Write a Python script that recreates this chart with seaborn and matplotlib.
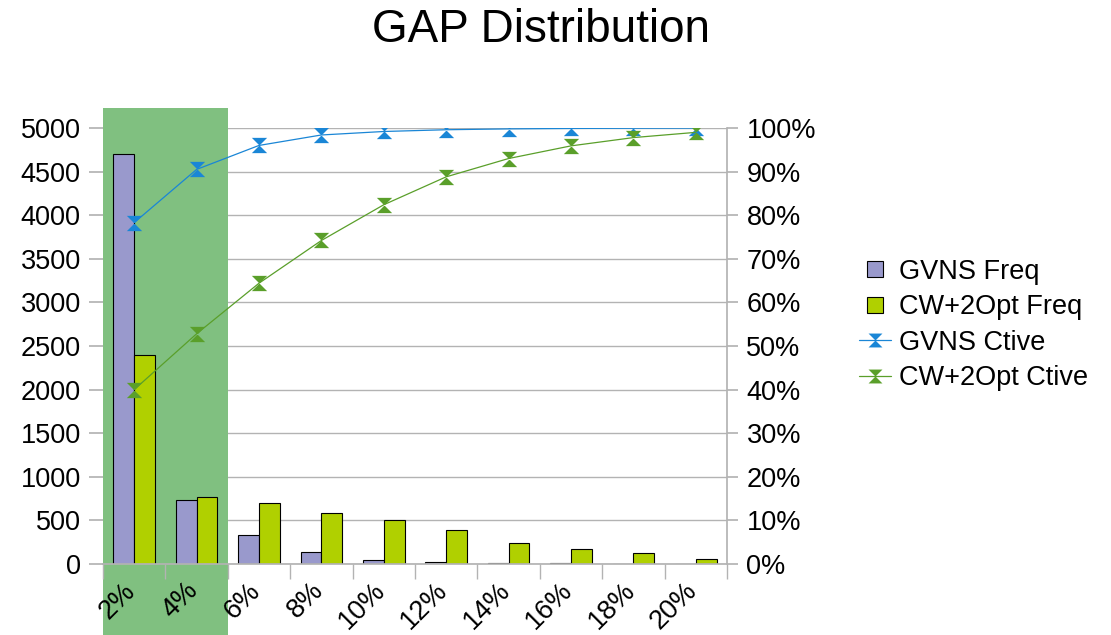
import numpy as np
import pandas as pd
import seaborn as sns
import matplotlib.pyplot as plt
from matplotlib.patches import Rectangle
from matplotlib.lines import Line2D
from matplotlib.ticker import PercentFormatter, FixedLocator
from matplotlib.transforms import ScaledTranslation

gaps = ['2%', '4%', '6%', '8%', '10%', '12%', '14%', '16%', '18%', '20%']
gvns_freq = [4700, 731, 331, 142, 46, 27, 12, 6, 3, 2]
cw_freq = [2400, 769, 700, 585, 500, 385, 242, 177, 123, 62]
gvns_ctive = [0.783, 0.905, 0.960, 0.984, 0.992, 0.996, 0.998, 0.999, 0.9995, 0.9998]
cw_ctive = [0.400, 0.528, 0.644, 0.742, 0.824, 0.888, 0.930, 0.959, 0.978, 0.990]

sns.set_theme(style='white')
plt.rcParams['font.family'] = ['Liberation Sans', 'DejaVu Sans']
plt.rcParams['text.color'] = 'black'
plt.rcParams['xtick.color'] = 'black'
plt.rcParams['ytick.color'] = 'black'

purple = '#9999cc'
lime = '#b0d000'
blue = '#1a86d6'
green = '#5a9f2a'
grid_c = '#b3b3b3'

df = pd.DataFrame({
    'gap': gaps * 2,
    'count': gvns_freq + cw_freq,
    'series': ['GVNS Freq'] * len(gaps) + ['CW+2Opt Freq'] * len(gaps),
})

fig = plt.figure(figsize=(11.11, 6.35), dpi=100)
ax = fig.add_axes([103 / 1111, 1 - 564 / 635, 624 / 1111, 436 / 635])

# highlight band over the first two gap classes
band = Rectangle((103 / 1111, 0), 125 / 1111, (635 - 108) / 635, transform=fig.transFigure,
                 facecolor='#80c080', edgecolor='none', zorder=0.6, clip_on=False)
ax.add_patch(band)

sns.barplot(data=df, x='gap', y='count', hue='series', order=gaps,
            palette=[purple, lime], saturation=1, width=0.665, edgecolor='black',
            linewidth=0.8, ax=ax, legend=False, zorder=1)

ax.set_axisbelow(True)
ax.xaxis.set_zorder(2.5)
ax.set_xlim(-0.5, len(gaps) - 0.5)
ax.set_ylim(0, 5000)
ax.set_yticks(np.arange(0, 5001, 500))
ax.yaxis.grid(True, color=grid_c, linewidth=1)
ax.set_xlabel('')
ax.set_ylabel('')
for s in ['left', 'top', 'right']:
    ax.spines[s].set_visible(False)
ax.spines['bottom'].set_color(grid_c)
ax.tick_params(axis='y', length=10, color=grid_c, labelsize=19.5, pad=6, left=True)
ax.tick_params(axis='x', which='major', length=0, labelsize=19.5, pad=4)
ax.xaxis.set_minor_locator(FixedLocator(np.arange(-0.5, len(gaps), 1.0)))
ax.tick_params(axis='x', which='minor', length=11, color=grid_c, bottom=True)
shift = ScaledTranslation(7 / 100, -8 / 100, fig.dpi_scale_trans)
for lab in ax.get_xticklabels():
    lab.set_rotation(45)
    lab.set_ha('right')
    lab.set_transform(lab.get_transform() + shift)

ax2 = ax.twinx()
hourglass = [(-1, 1), (1, 1), (-1, -1), (1, -1)]
xpos = np.arange(len(gaps))
sns.lineplot(x=xpos, y=gvns_ctive, ax=ax2, color=blue, linewidth=0.9,
             marker=hourglass, markersize=11, markeredgewidth=0)
sns.lineplot(x=xpos, y=cw_ctive, ax=ax2, color=green, linewidth=0.9,
             marker=hourglass, markersize=11, markeredgewidth=0)
ax2.set_ylim(0, 1)
ax2.set_yticks(np.arange(0, 1.01, 0.1))
ax2.yaxis.set_major_formatter(PercentFormatter(1.0, decimals=0))
ax2.tick_params(axis='y', length=8, color=grid_c, labelsize=19.5, pad=6, right=True)
for s in ['left', 'top', 'bottom']:
    ax2.spines[s].set_visible(False)
ax2.spines['right'].set_color(grid_c)
ax2.set_xlim(-0.5, len(gaps) - 0.5)

handles = [
    Line2D([], [], marker='s', linestyle='none', markerfacecolor=purple,
           markeredgecolor='black', markeredgewidth=0.8, markersize=12),
    Line2D([], [], marker='s', linestyle='none', markerfacecolor=lime,
           markeredgecolor='black', markeredgewidth=0.8, markersize=12),
    Line2D([], [], color=blue, linewidth=0.9, marker=hourglass, markersize=10, markeredgewidth=0),
    Line2D([], [], color=green, linewidth=0.9, marker=hourglass, markersize=10, markeredgewidth=0),
]
labels = ['GVNS Freq', 'CW+2Opt Freq', 'GVNS Ctive', 'CW+2Opt Ctive']
fig.legend(handles, labels, loc='center left', bbox_to_anchor=(848 / 1111, 1 - 325 / 635),
           frameon=False, fontsize=19.5, handlelength=1.2, handletextpad=0.3,
           labelspacing=0.35, borderaxespad=0)

fig.text(541 / 1111, 1 - 30 / 635, 'GAP Distribution', ha='center', va='center', fontsize=33)

fig.savefig('out.png', dpi=100)
